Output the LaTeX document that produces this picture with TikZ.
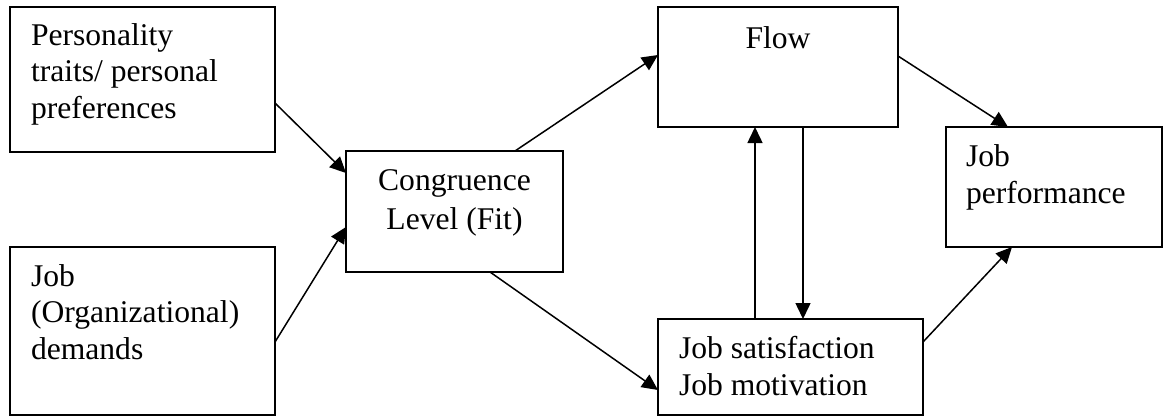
\documentclass[tikz,border=0pt]{standalone}
\usepackage{fontspec}
\setmainfont{Liberation Serif}
\usetikzlibrary{arrows.meta}
\begin{document}
\begin{tikzpicture}[x=1pt,y=-1pt,
  box/.style={draw,line width=1.5pt,inner sep=0pt,outer sep=0pt},
  lbl/.style={inner sep=0pt,outer sep=0pt,anchor=base west,align=left,
    font=\fontsize{31.6}{36.2}\selectfont},
  link/.style={line width=1.5pt,-{Triangle[length=16pt,width=15pt]}}]
\useasboundingbox (0,0) rectangle (1163,416);

% boxes
\node[box,minimum width=265pt,minimum height=145pt] (pers) at (142.5,79.5) {};
\node[box,minimum width=265pt,minimum height=168pt] (dem)  at (142.5,331) {};
\node[box,minimum width=217pt,minimum height=121pt] (fit)  at (454.5,211.5) {};
\node[box,minimum width=240pt,minimum height=120pt] (flow) at (778,67) {};
\node[box,minimum width=216pt,minimum height=120pt] (perf) at (1054,187) {};
\node[box,minimum width=265pt,minimum height=96pt]  (sat)  at (790.5,367) {};

% labels (anchored at the baseline of the last line)
\node[lbl] (persT) at (31,118) {Personality\\traits/ personal\\preferences};
\node[lbl] (demT)  at (31,359) {Job\\(Organizational)\\demands};
\node[lbl,anchor=base,align=center,font=\fontsize{31.6}{38.7}\selectfont] (fitT) at (454.5,229) {Congruence\\Level (Fit)};
\node[lbl,anchor=base] (flowT) at (778,48) {Flow};
\node[lbl] (perfT) at (966,203) {Job\\performance};
\node[lbl] (satT)  at (679,395) {Job satisfaction\\Job motivation};

% connectors
\draw[link] ([yshift=-23.5pt]pers.east) -- ([yshift=38.5pt]fit.west);
\draw[link] ([yshift=-11pt]dem.east) -- ([yshift=-15.5pt]fit.west);
\draw[link] ([xshift=60.5pt]fit.north) -- ([yshift=12pt]flow.west);
\draw[link] ([xshift=35.5pt]fit.south) -- ([yshift=-23pt]sat.west);
\draw[link] ([xshift=-35.5pt]sat.north) -- ([xshift=-35.5pt]sat.north |- flow.south);
\draw[link] ([xshift=25pt]flow.south) -- ([xshift=25pt]flow.south |- sat.north);
\draw[link] ([yshift=11pt]flow.east) -- ([xshift=-46pt]perf.north);
\draw[link] ([yshift=25pt]sat.east) -- ([xshift=-42pt]perf.south);
\end{tikzpicture}
\end{document}
